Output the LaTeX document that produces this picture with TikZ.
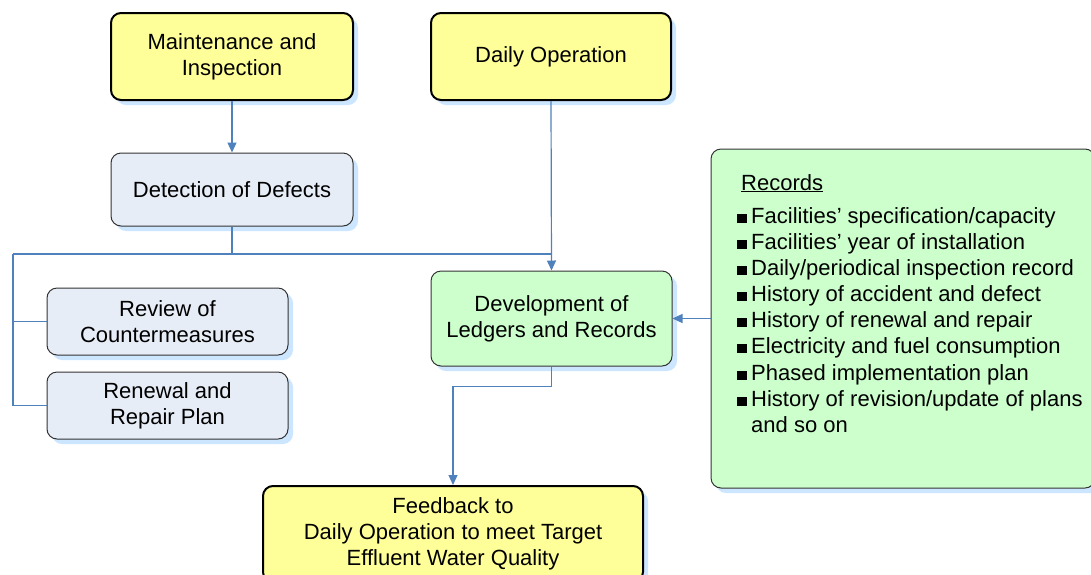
\documentclass[tikz,border=0pt]{standalone}
\usepackage{fontspec}
\setmainfont{Liberation Sans}
\usetikzlibrary{arrows.meta,shadows}
\definecolor{yel}{HTML}{FFFF99}
\definecolor{gblue}{HTML}{E7EDF7}
\definecolor{grn}{HTML}{CCFFCC}
\definecolor{shad}{HTML}{CCE6FF}
\definecolor{conncol}{HTML}{4F81BD}
\newcommand{\bul}{\makebox[14pt][l]{\rule{10pt}{9pt}}}
\begin{document}
\begin{tikzpicture}[x=1pt,y=-1pt,
  box/.style={draw=black!80, line width=1pt, rounded corners=10pt, align=center,
    inner sep=0pt, font=\fontsize{22}{26}\selectfont,
    drop shadow={shadow xshift=5pt, shadow yshift=-5pt, fill=shad, opacity=1}},
  heavybox/.style={box, line width=2pt, draw=black},
  conn/.style={draw=conncol, line width=1.2pt},
  arr/.style={conn, -{Triangle[length=10pt,width=9pt]}},
  rec/.style={anchor=base west, inner sep=0pt, font=\fontsize{22}{26}\selectfont}
]
\useasboundingbox (0,0) rectangle (1091,574);
\fill[white] (0,0) rectangle (1091,574);

\node[heavybox, fill=yel, minimum width=242pt, minimum height=87pt] (MI) at (232,56.5) {Maintenance and\\Inspection};
\node[heavybox, fill=yel, minimum width=240pt, minimum height=87pt] (DO) at (551,56.5) {Daily Operation};
\node[box, fill=gblue, minimum width=242pt, minimum height=73pt] (DD) at (232,189.5) {Detection of Defects};
\node[box, fill=gblue, minimum width=241pt, minimum height=67pt] (RC) at (167.5,321.5) {Review of\\Countermeasures};
\node[box, fill=gblue, minimum width=241pt, minimum height=67pt] (RR) at (167.5,405.5) {Renewal and\\Repair Plan};
\node[box, fill=grn, minimum width=241pt, minimum height=95pt] (DL) at (551.5,318.5) {Development of\\Ledgers and Records};
\node[box, fill=grn, minimum width=384pt, minimum height=339pt] (REC) at (903,318.5) {};
\node[heavybox, fill=yel, minimum width=380pt, minimum height=96pt] (FB) at (453,534) {Feedback to\\Daily Operation to meet Target\\Effluent Water Quality};

\node[rec] (r0) at (741,190) {\underline{Records}};
\node[rec] (r1) at (737,223) {\bul Facilities’ specification/capacity};
\node[rec] (r2) at (737,249) {\bul Facilities’ year of installation};
\node[rec] (r3) at (737,275) {\bul Daily/periodical inspection record};
\node[rec] (r4) at (737,301) {\bul History of accident and defect};
\node[rec] (r5) at (737,327) {\bul History of renewal and repair};
\node[rec] (r6) at (737,353) {\bul Electricity and fuel consumption};
\node[rec] (r7) at (737,380) {\bul Phased implementation plan};
\node[rec] (r8) at (737,406) {\bul History of revision/update of plans};
\node[rec] (r9) at (751,432) {and so on};

\coordinate (j1) at (232,254);
\coordinate (jL) at (13,254);
\coordinate (jR) at (551,254);

\draw[arr] (MI.south) -- (DD.north);
\draw[arr] (DO.south) -- (DL.north);
\draw[conn] (DD.south) -- (j1);
\draw[conn] (jL) -- (jR);
\draw[conn] (jL) |- (RC.west);
\draw[conn] (jL) |- (RR.west);
\draw[arr] (DL.south) -- ++(0,20) -| (FB.north);
\draw[arr] (REC.west) -- (DL.east);
\end{tikzpicture}
\end{document}
